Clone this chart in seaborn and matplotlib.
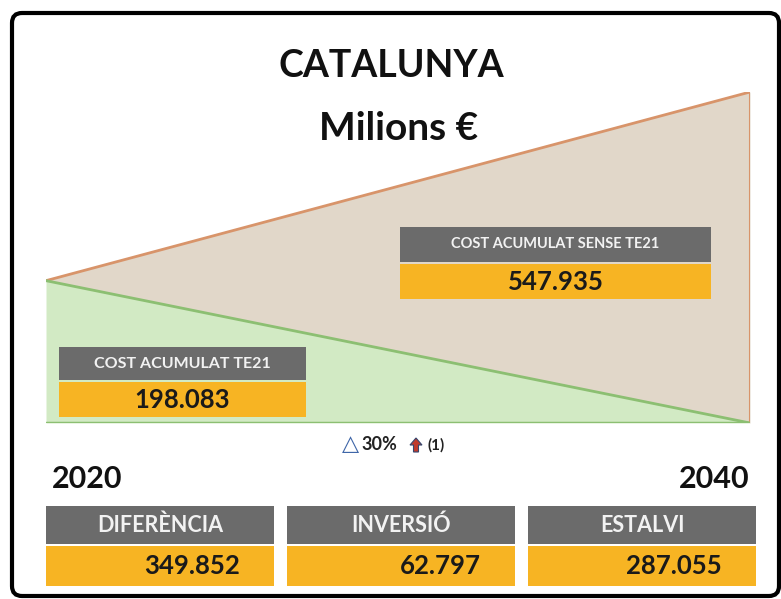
import numpy as np
import pandas as pd
import matplotlib
matplotlib.use("Agg")
import matplotlib.pyplot as plt
from matplotlib.patches import FancyBboxPatch, Rectangle, FancyArrow
import seaborn as sns

sns.set_theme(style="white")
FONT = ["Lato", "DejaVu Sans"]
plt.rcParams["font.family"] = FONT

# %% Dades
years = [2020, 2040]
cost_sense_te21 = [0.43, 1.0]   # forma de la corba (esquemàtica)
cost_te21 = [0.43, 0.0]
titol = "CATALUNYA"
subtitol = "Milions €"
etiqueta_sense = "COST ACUMULAT SENSE TE21"
valor_sense = "547.935"
etiqueta_te21 = "COST ACUMULAT TE21"
valor_te21 = "198.083"
indicadors = ["DIFERÈNCIA", "INVERSIÓ", "ESTALVI"]
valors_indicadors = ["349.852", "62.797", "287.055"]
increment = "30%"

GRIS = "#6b6b6b"
TARONJA = "#f7b423"
BEIGE = "#e1d7c9"
BEIGE_LINE = "#d8946a"
VERD = "#d2eac4"
VERD_LINE = "#8cbf72"

W, H = 781, 599
fig = plt.figure(figsize=(W / 100, H / 100), dpi=100)

# %% Capa d'anotacions en píxels
ov = fig.add_axes([0, 0, 1, 1])
ov.set_xlim(0, W)
ov.set_ylim(H, 0)
ov.axis("off")
ov.add_patch(FancyBboxPatch((12, 13), 767, 583, boxstyle="round,pad=0,rounding_size=10",
                            fc="white", ec="black", lw=3, zorder=0))

# %% Gràfic dels triangles
ax = fig.add_axes([46 / W, 1 - 423 / H, 704 / W, 331 / H])
df = pd.DataFrame({"any": years * 2,
                   "cost": cost_sense_te21 + cost_te21,
                   "serie": ["sense"] * 2 + ["te21"] * 2})
ax.fill_between(years, cost_te21, cost_sense_te21, color=BEIGE, lw=0)
ax.fill_between(years, 0, cost_te21, color=VERD, lw=0)
sns.lineplot(data=df, x="any", y="cost", hue="serie",
             palette={"sense": BEIGE_LINE, "te21": VERD_LINE}, lw=2, legend=False, ax=ax)
ax.plot([years[-1], years[-1]], [0, cost_sense_te21[-1]], color=BEIGE_LINE, lw=1.5)
ax.plot(years, [0, 0], color=VERD_LINE, lw=2.5)
ax.set_xlim(years[0], years[-1])
ax.set_ylim(0, max(cost_sense_te21))
ax.axis("off")

# capa superior per a les caixes
ov2 = fig.add_axes([0, 0, 1, 1])
ov2.set_xlim(0, W)
ov2.set_ylim(H, 0)
ov2.axis("off")
ov2.patch.set_alpha(0)


def caixa(x0, x1, y0, ym, y1, etiqueta, valor, fs_lab, fs_val, align="center", pad=0):
    ov2.add_patch(Rectangle((x0, y0), x1 - x0, ym - y0, fc=GRIS, ec="none"))
    ov2.add_patch(Rectangle((x0, ym + 2), x1 - x0, y1 - ym - 2, fc=TARONJA, ec="none"))
    ov2.text((x0 + x1) / 2, (y0 + ym) / 2, etiqueta, color="#f2f2f2", fontsize=fs_lab,
             fontweight="bold", ha="center", va="center")
    xv = (x0 + x1) / 2 if align == "center" else x1 - pad
    ov2.text(xv, (ym + y1) / 2 + 1, valor, color="#1a1a1a", fontsize=fs_val,
             fontweight="bold", ha=align, va="center")


caixa(400, 711, 227, 262, 299, etiqueta_sense, valor_sense, 10.5, 18.5)
caixa(59, 306, 347, 380, 417, etiqueta_te21, valor_te21, 11.5, 18.5)

xs = [(46, 274), (287, 515), (528, 756)]
for (x0, x1), lab, val in zip(xs, indicadors, valors_indicadors):
    caixa(x0, x1, 506, 544, 586, lab, val, 15.5, 18.5, align="right", pad=34)

# títols
ov2.text(391, 66, titol, fontsize=27, fontweight="bold", ha="center", va="center", color="#111111")
ov2.text(399, 128, subtitol, fontsize=28, fontweight="bold", ha="center", va="center", color="#111111")

# anys
ov2.text(52, 479, str(years[0]), fontsize=22, fontweight="bold", ha="left", va="center", color="#111111")
ov2.text(750, 479, str(years[-1]), fontsize=22, fontweight="bold", ha="right", va="center", color="#111111")

# increment
ov2.text(351, 444, "△", fontsize=16, color="#3f66a8", ha="center", va="center",
         fontweight="bold", family=["DejaVu Sans"])
ov2.text(361, 445, increment, fontsize=13, color="#222222", ha="left", va="center", fontweight="bold")
ov2.add_patch(FancyArrow(416, 452, 0, -7, width=5, head_width=12, head_length=7,
                         length_includes_head=False, fc="#c0392b", ec="#34466e", lw=0.8))
ov2.text(428, 445, "(1)", fontsize=11, color="#222222", ha="left", va="center", fontweight="bold")

fig.savefig("out.png", dpi=100)
